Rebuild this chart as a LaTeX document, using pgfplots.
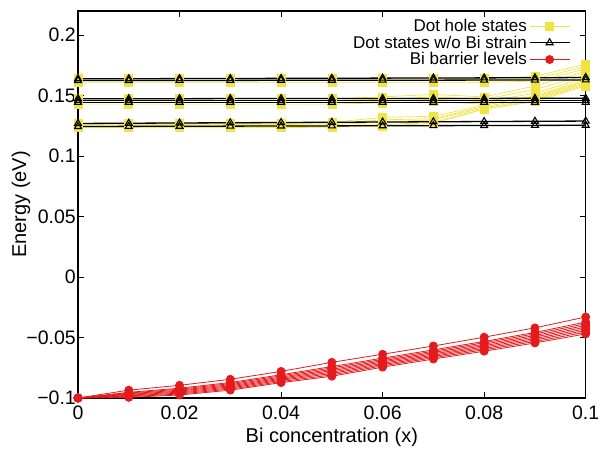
\documentclass[border=0pt]{standalone}
\usepackage{pgfplots}
\pgfplotsset{compat=1.18}
\usepackage{fontspec}
\setmainfont{Liberation Sans}
\definecolor{myyellow}{RGB}{240,228,66}
\definecolor{myred}{RGB}{228,26,28}
\begin{document}
\begin{tikzpicture}
\begin{axis}[
  at={(0pt,0pt)}, anchor=south west,
  scale only axis, width=507.7pt, height=387pt,
  xmin=0, xmax=0.1, ymin=-0.1, ymax=0.22,
  xtick={0,0.02,0.04,0.06,0.08,0.1},
  xticklabels={0,0.02,0.04,0.06,0.08,0.1},
  ytick={-0.1,-0.05,0,0.05,0.1,0.15,0.2},
  yticklabels={−0.1,−0.05,0,0.05,0.1,0.15,0.2},
  tick align=inside, major tick length=6pt,
  tick style={black, line width=0.8pt},
  axis line style={black, line width=1.2pt},
  ticklabel style={font=\fontsize{19.5}{22}\selectfont},
  yticklabel style={inner sep=2pt},
  xticklabel style={inner sep=8pt},
  xlabel={Bi concentration (x)},
  ylabel={Energy (eV)},
  label style={font=\fontsize{20}{22}\selectfont},
  xlabel style={at={(axis description cs:0.5,0)}, anchor=center, yshift=-39pt},
  ylabel style={at={(axis description cs:0,0.5)}, anchor=center, rotate=0, yshift=57pt},
  legend style={at={(rel axis cs:0.97,0.985)}, anchor=north east, draw=none, fill=none,
     font=\fontsize{17}{17}\selectfont, row sep=-1pt, inner sep=0pt},
  legend cell align=right,
  legend plot pos=right,
  legend image code/.code={\draw[mark repeat=2,mark phase=2,#1] plot coordinates {(0pt,0pt) (20pt,0pt) (40pt,0pt)};},
  clip=false,
]
\pgfplotsset{
  yl/.style={color=myyellow, mark=square*, mark size=4pt, line width=0.7pt, mark options={solid}},
  bl/.style={color=black, mark=triangle, mark size=4pt, line width=1.3pt, mark options={solid, line width=1.1pt}},
  rl/.style={color=myred, mark=*, mark size=4pt, line width=0.8pt, mark options={solid}},
}
% ---------- Dot hole states (yellow) ----------
\addplot[yl] coordinates {(0,0.164)(0.01,0.164)(0.02,0.164)(0.03,0.164)(0.04,0.164)(0.05,0.164)(0.06,0.164)(0.07,0.164)(0.08,0.164)(0.09,0.166)(0.1,0.176)};
\addlegendentry{Dot hole states}
\addplot[yl,forget plot] coordinates {(0,0.1625)(0.01,0.1625)(0.02,0.1625)(0.03,0.1625)(0.04,0.1625)(0.05,0.1625)(0.06,0.1625)(0.07,0.1625)(0.08,0.1625)(0.09,0.164)(0.1,0.174)};
\addplot[yl,forget plot] coordinates {(0,0.161)(0.01,0.161)(0.02,0.161)(0.03,0.161)(0.04,0.161)(0.05,0.161)(0.06,0.161)(0.07,0.161)(0.08,0.161)(0.09,0.162)(0.1,0.172)};
\addplot[yl,forget plot] coordinates {(0,0.1475)(0.01,0.1475)(0.02,0.1475)(0.03,0.1475)(0.04,0.1475)(0.05,0.1475)(0.06,0.149)(0.07,0.151)(0.08,0.149)(0.09,0.158)(0.1,0.170)};
\addplot[yl,forget plot] coordinates {(0,0.146)(0.01,0.146)(0.02,0.146)(0.03,0.146)(0.04,0.146)(0.05,0.146)(0.06,0.147)(0.07,0.149)(0.08,0.147)(0.09,0.155)(0.1,0.167)};
\addplot[yl,forget plot] coordinates {(0,0.1445)(0.01,0.1445)(0.02,0.1445)(0.03,0.1445)(0.04,0.1445)(0.05,0.1445)(0.06,0.145)(0.07,0.147)(0.08,0.145)(0.09,0.152)(0.1,0.165)};
\addplot[yl,forget plot] coordinates {(0,0.143)(0.01,0.143)(0.02,0.143)(0.03,0.143)(0.04,0.143)(0.05,0.143)(0.06,0.144)(0.07,0.145)(0.08,0.143)(0.09,0.149)(0.1,0.162)};
\addplot[yl,forget plot] coordinates {(0,0.127)(0.01,0.127)(0.02,0.127)(0.03,0.127)(0.04,0.127)(0.05,0.128)(0.06,0.132)(0.07,0.133)(0.08,0.142)(0.09,0.150)(0.1,0.163)};
\addplot[yl,forget plot] coordinates {(0,0.126)(0.01,0.126)(0.02,0.126)(0.03,0.126)(0.04,0.126)(0.05,0.127)(0.06,0.130)(0.07,0.131)(0.08,0.141)(0.09,0.148)(0.1,0.161)};
\addplot[yl,forget plot] coordinates {(0,0.125)(0.01,0.125)(0.02,0.125)(0.03,0.125)(0.04,0.125)(0.05,0.126)(0.06,0.128)(0.07,0.130)(0.08,0.140)(0.09,0.147)(0.1,0.160)};
\addplot[yl,forget plot] coordinates {(0,0.124)(0.01,0.124)(0.02,0.124)(0.03,0.124)(0.04,0.124)(0.05,0.125)(0.06,0.126)(0.07,0.128)(0.08,0.139)(0.09,0.146)(0.1,0.159)};
\addplot[yl,forget plot] coordinates {(0,0.1235)(0.01,0.1235)(0.02,0.1235)(0.03,0.1235)(0.04,0.1235)(0.05,0.124)(0.06,0.125)(0.07,0.127)(0.08,0.139)(0.09,0.145)(0.1,0.158)};
% ---------- Dot states w/o Bi strain (black) ----------
\addplot[bl] coordinates {(0,0.164)(0.01,0.164)(0.02,0.1641)(0.03,0.1642)(0.04,0.1643)(0.05,0.1644)(0.06,0.1645)(0.07,0.1646)(0.08,0.1647)(0.09,0.1648)(0.1,0.165)};
\addlegendentry{Dot states w/o Bi strain}
\addplot[bl,forget plot] coordinates {(0,0.1625)(0.01,0.1625)(0.02,0.1626)(0.03,0.1626)(0.04,0.1627)(0.05,0.1627)(0.06,0.1628)(0.07,0.1628)(0.08,0.1629)(0.09,0.1629)(0.1,0.163)};
\addplot[bl,forget plot] coordinates {(0,0.1475)(0.01,0.1475)(0.02,0.1475)(0.03,0.1476)(0.04,0.1476)(0.05,0.1476)(0.06,0.1477)(0.07,0.1477)(0.08,0.1477)(0.09,0.1478)(0.1,0.1478)};
\addplot[bl,forget plot] coordinates {(0,0.146)(0.01,0.146)(0.02,0.146)(0.03,0.146)(0.04,0.146)(0.05,0.146)(0.06,0.146)(0.07,0.146)(0.08,0.146)(0.09,0.146)(0.1,0.146)};
\addplot[bl,forget plot] coordinates {(0,0.1445)(0.01,0.1445)(0.02,0.1445)(0.03,0.1445)(0.04,0.1445)(0.05,0.1445)(0.06,0.1445)(0.07,0.1445)(0.08,0.1445)(0.09,0.1445)(0.1,0.1445)};
\addplot[bl,forget plot] coordinates {(0,0.127)(0.01,0.1272)(0.02,0.1274)(0.03,0.1276)(0.04,0.1278)(0.05,0.128)(0.06,0.1282)(0.07,0.1284)(0.08,0.1286)(0.09,0.1288)(0.1,0.129)};
\addplot[bl,forget plot] coordinates {(0,0.1245)(0.01,0.1246)(0.02,0.1247)(0.03,0.1248)(0.04,0.1249)(0.05,0.125)(0.06,0.1251)(0.07,0.1252)(0.08,0.1253)(0.09,0.1254)(0.1,0.1255)};
% ---------- Bi barrier levels (red) ----------
\addplot[rl] coordinates {(0,-0.1)(0.01,-0.0935)(0.02,-0.0895)(0.03,-0.0845)(0.04,-0.078)(0.05,-0.0705)(0.06,-0.0638)(0.07,-0.057)(0.08,-0.0497)(0.09,-0.042)(0.1,-0.033)};
\addlegendentry{Bi barrier levels}
\addplot[rl,forget plot] coordinates {(0,-0.1)(0.01,-0.0953)(0.02,-0.0919)(0.03,-0.0872)(0.04,-0.0808)(0.05,-0.0740)(0.06,-0.0670)(0.07,-0.0602)(0.08,-0.0532)(0.09,-0.0458)(0.1,-0.0372)};
\addplot[rl,forget plot] coordinates {(0,-0.1)(0.01,-0.0959)(0.02,-0.0927)(0.03,-0.0881)(0.04,-0.0817)(0.05,-0.0751)(0.06,-0.0681)(0.07,-0.0613)(0.08,-0.0543)(0.09,-0.0470)(0.1,-0.0386)};
\addplot[rl,forget plot] coordinates {(0,-0.1)(0.01,-0.0965)(0.02,-0.0935)(0.03,-0.0890)(0.04,-0.0827)(0.05,-0.0763)(0.06,-0.0692)(0.07,-0.0624)(0.08,-0.0555)(0.09,-0.0483)(0.1,-0.0400)};
\addplot[rl,forget plot] coordinates {(0,-0.1)(0.01,-0.0971)(0.02,-0.0943)(0.03,-0.0899)(0.04,-0.0836)(0.05,-0.0774)(0.06,-0.0702)(0.07,-0.0635)(0.08,-0.0567)(0.09,-0.0495)(0.1,-0.0414)};
\addplot[rl,forget plot] coordinates {(0,-0.1)(0.01,-0.0977)(0.02,-0.0951)(0.03,-0.0908)(0.04,-0.0845)(0.05,-0.0786)(0.06,-0.0713)(0.07,-0.0646)(0.08,-0.0578)(0.09,-0.0508)(0.1,-0.0428)};
\addplot[rl,forget plot] coordinates {(0,-0.1)(0.01,-0.0983)(0.02,-0.0959)(0.03,-0.0917)(0.04,-0.0854)(0.05,-0.0797)(0.06,-0.0724)(0.07,-0.0656)(0.08,-0.0590)(0.09,-0.0520)(0.1,-0.0442)};
\addplot[rl,forget plot] coordinates {(0,-0.1)(0.01,-0.0989)(0.02,-0.0967)(0.03,-0.0926)(0.04,-0.0864)(0.05,-0.0809)(0.06,-0.0734)(0.07,-0.0667)(0.08,-0.0601)(0.09,-0.0533)(0.1,-0.0456)};
\addplot[rl,forget plot] coordinates {(0,-0.1)(0.01,-0.0995)(0.02,-0.0975)(0.03,-0.0935)(0.04,-0.0873)(0.05,-0.0820)(0.06,-0.0745)(0.07,-0.0678)(0.08,-0.0613)(0.09,-0.0545)(0.1,-0.0470)};
\end{axis}
\path (-78pt,-52pt) rectangle (535pt,398pt);
\end{tikzpicture}
\end{document}
